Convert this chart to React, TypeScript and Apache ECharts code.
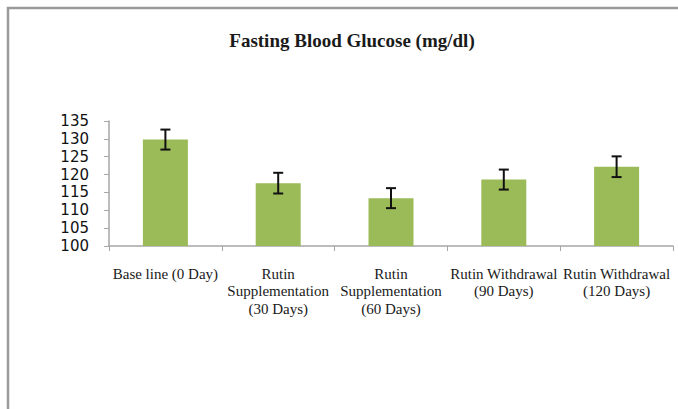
import React, { useEffect, useRef } from "react";
import * as echarts from "echarts";

const categories = [
  "Base line (0 Day)",
  "Rutin\nSupplementation\n(30 Days)",
  "Rutin\nSupplementation\n(60 Days)",
  "Rutin Withdrawal\n(90 Days)",
  "Rutin Withdrawal\n(120 Days)",
];
const means = [129.8, 117.6, 113.4, 118.6, 122.2];
const errors = [2.8, 2.9, 2.8, 2.8, 2.9];
const yTicks = { min: 100, max: 135, interval: 5 };
const title = "Fasting Blood Glucose (mg/dl)";

export default function App() {
  const ref = useRef<HTMLDivElement>(null);
  useEffect(() => {
    document.body.style.margin = "0";
    const chart = echarts.init(ref.current!, null, { renderer: "svg" });
    const errData = means.map((m, i) => [i, m - errors[i], m + errors[i]]);
    chart.setOption({
      animation: false,
      backgroundColor: "#ffffff",
      title: {
        text: title,
        left: 347,
        textAlign: "center",
        top: 26,
        textStyle: {
          fontFamily: "Liberation Serif",
          fontSize: 19,
          fontWeight: "bold",
          color: "#1a1a1a",
        },
      },
      graphic: [
        {
          type: "rect",
          shape: { x: 8, y: 8, width: 700, height: 450 },
          style: { fill: "none", stroke: "#9a9a9a", lineWidth: 2.5 },
          silent: true,
        },
      ],
      grid: { left: 109, right: 5, top: 121, bottom: 163 },
      xAxis: {
        type: "category",
        data: categories,
        axisLine: { lineStyle: { color: "#a6a6a6", width: 1.5 } },
        axisTick: { show: true, length: 5, lineStyle: { color: "#a6a6a6" } },
        axisLabel: {
          interval: 0,
          margin: 19,
          fontFamily: "Liberation Serif",
          fontSize: 15,
          lineHeight: 17.5,
          color: "#1a1a1a",
        },
      },
      yAxis: {
        type: "value",
        min: yTicks.min,
        max: yTicks.max,
        interval: yTicks.interval,
        splitLine: { show: false },
        axisLine: { show: true, lineStyle: { color: "#a6a6a6", width: 1.5 } },
        axisTick: { show: true, length: 5, lineStyle: { color: "#a6a6a6" } },
        axisLabel: {
          margin: 20,
          fontFamily: "DejaVu Sans",
          fontSize: 15,
          color: "#111111",
        },
      },
      series: [
        {
          type: "bar",
          data: means,
          barWidth: 45,
          itemStyle: { color: "#9bbb59" },
        },
        {
          type: "custom",
          data: errData,
          z: 10,
          renderItem: (params: any, api: any) => {
            const x = api.value(0);
            const lo = api.coord([x, api.value(1)]);
            const hi = api.coord([x, api.value(2)]);
            const hw = 5;
            const style = { stroke: "#111111", lineWidth: 2 };
            return {
              type: "group",
              children: [
                { type: "line", shape: { x1: hi[0], y1: hi[1], x2: lo[0], y2: lo[1] }, style },
                { type: "line", shape: { x1: hi[0] - hw, y1: hi[1], x2: hi[0] + hw, y2: hi[1] }, style },
                { type: "line", shape: { x1: lo[0] - hw, y1: lo[1], x2: lo[0] + hw, y2: lo[1] }, style },
              ],
            };
          },
        },
      ],
    });
    return () => chart.dispose();
  }, []);
  return <div ref={ref} style={{ width: 678, height: 409 }} />;
}
